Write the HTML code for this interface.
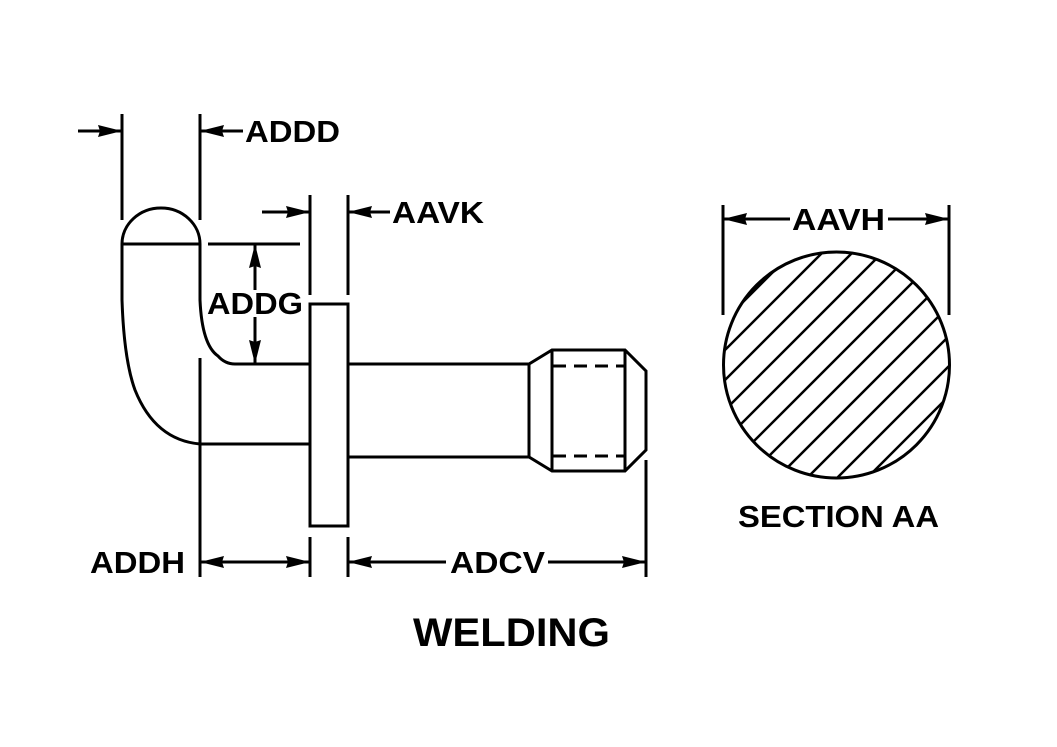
<!DOCTYPE html>
<html><head><style>body{margin:0;background:#fff}svg{display:block}text{font-family:"Liberation Sans",Arial,sans-serif;font-weight:bold;fill:#000}</style></head>
<body>
<svg width="1057" height="747" viewBox="0 0 1057 747" xmlns="http://www.w3.org/2000/svg">
<defs>
<marker id="a" viewBox="0 0 24 12" refX="24" refY="6" markerWidth="24" markerHeight="12" markerUnits="userSpaceOnUse" orient="auto"><path d="M0,0 L24,6 L0,12 L2,6 Z" fill="#000"/></marker>
<clipPath id="c"><circle cx="836.5" cy="365" r="113"/></clipPath>
</defs>
<g stroke="#000" stroke-width="3" fill="none">
<path d="M122,244 A39,36 0 0 1 200,244 Z"/>
<path d="M200,244 L200,300 Q202,345 218,356 Q225,364 235,364 L310,364"/>
<path d="M122,244 L122,300 Q124,360 135,390 Q155,440 200,444 L310,444"/>
<rect x="310" y="304" width="38" height="222"/>
<path d="M348,364 L529,364 L552,350 L625,350 L646,371 L646,450 L625,471 L552,471 L529,457 L348,457"/>
<path d="M529,364 L529,457 M552,350 L552,471 M625,350 L625,471"/>
<path d="M553,366 L625,366 M553,456 L625,456" stroke-dasharray="13,8"/>
<path d="M122,114 L122,220 M200,114 L200,220 M200,358 L200,577 M310,195 L310,295 M348,195 L348,295 M310,537 L310,577 M348,537 L348,577 M646,460 L646,577 M208,244 L300,244 M723,205 L723,315 M949,205 L949,315"/>
<path d="M78,131 L122,131" marker-end="url(#a)"/>
<path d="M243,131 L200,131" marker-end="url(#a)"/>
<path d="M262,212 L310,212" marker-end="url(#a)"/>
<path d="M390,212 L348,212" marker-end="url(#a)"/>
<path d="M255,290 L255,244" marker-end="url(#a)"/>
<path d="M255,317 L255,364" marker-end="url(#a)"/>
<path d="M255,562 L200,562" marker-end="url(#a)"/>
<path d="M255,562 L310,562" marker-end="url(#a)"/>
<path d="M446,562 L348,562" marker-end="url(#a)"/>
<path d="M548,562 L646,562" marker-end="url(#a)"/>
<path d="M790,219 L723,219" marker-end="url(#a)"/>
<path d="M888,219 L949,219" marker-end="url(#a)"/>
<circle cx="836.5" cy="365" r="113"/>
<g clip-path="url(#c)" stroke-width="2.5">
<path d="M455,500 L735,220 M485,500 L765,220 M515,500 L795,220 M545,500 L825,220 M575,500 L855,220 M605,500 L885,220 M635,500 L915,220 M665,500 L945,220 M695,500 L975,220 M725,500 L1005,220 M755,500 L1035,220 M785,500 L1065,220 M815,500 L1095,220 M845,500 L1125,220"/>
</g>
</g>
<g font-size="31">
<text x="245" y="142" textLength="95" lengthAdjust="spacingAndGlyphs">ADDD</text>
<text x="392" y="223" textLength="92" lengthAdjust="spacingAndGlyphs">AAVK</text>
<text x="207" y="314" textLength="96" lengthAdjust="spacingAndGlyphs">ADDG</text>
<text x="90" y="573" textLength="95" lengthAdjust="spacingAndGlyphs">ADDH</text>
<text x="450" y="573" textLength="95" lengthAdjust="spacingAndGlyphs">ADCV</text>
<text x="792" y="230" textLength="93" lengthAdjust="spacingAndGlyphs">AAVH</text>
<text x="738" y="527" textLength="201" lengthAdjust="spacingAndGlyphs">SECTION AA</text>
</g>
<text x="413" y="646" font-size="40" textLength="197" lengthAdjust="spacingAndGlyphs">WELDING</text>
</svg>
</body></html>
